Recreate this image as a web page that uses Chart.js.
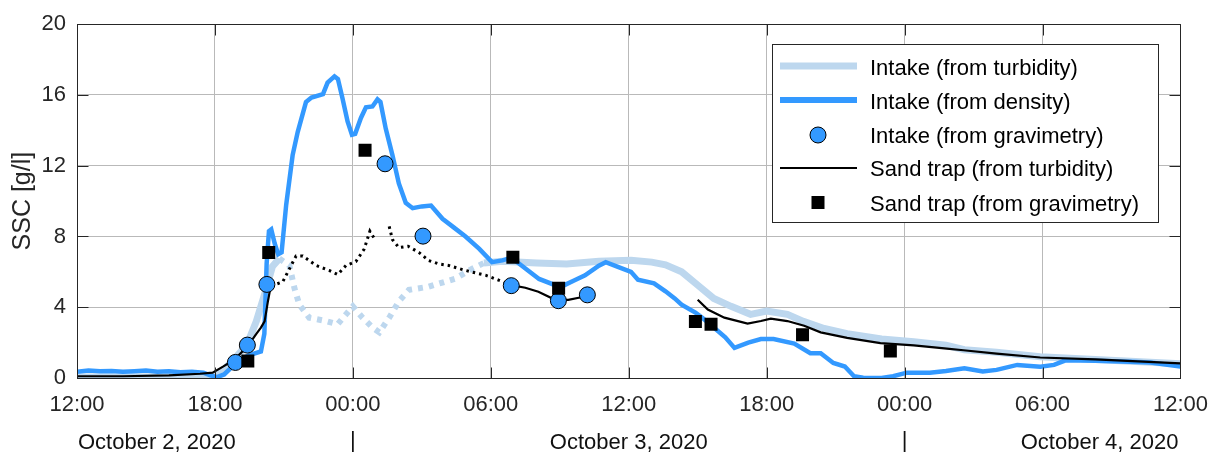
<!DOCTYPE html>
<html><head><meta charset="utf-8">
<script src="https://cdn.jsdelivr.net/npm/chart.js@4.4.1/dist/chart.umd.min.js"></script>
<style>html,body{margin:0;padding:0;background:#fff}#wrap{width:1222px;height:457px;position:relative}</style>
</head><body><div id="wrap"><canvas id="c"></canvas></div>
<script>
// ---- tick labels / categories ----
const xTickLabels = ['12:00','18:00','00:00','06:00','12:00','18:00','00:00','06:00','12:00'];
const dateLabels = ['October 2, 2020','October 3, 2020','October 4, 2020'];
const dateHours = [0, 24, 48];
const midnightHours = [12, 36];
const yAxisTitle = 'SSC [g/l]';
const seriesNames = ['Intake (from turbidity)','Intake (from density)','Intake (from gravimetry)','Sand trap (from turbidity)','Sand trap (from gravimetry)'];

// ---- series (x = hours after 12:00 on October 2, 2020; y = SSC in g/l) ----
const turbIntakeT = [0,3,5.5,5.9,6.4,6.8,7.4,7.8,8.2,8.5,8.8, 13, 17.7,18.5,20,21.3,22.7,24.1,25.0,25.6,26.3,27.0,27.7,28.45,29.3,30.0,30.9,31.6,32.5,33.5,35.0,36.4,37.8,38.6,40,41.9,44.3,48];
const turbIntakeV = [0.05,0.05,0.05,0.1,0.5,1.0,1.9,3.2,4.9,6.3,6.75, null, 6.5,6.6,6.5,6.45,6.6,6.65,6.55,6.4,6.0,5.25,4.5,4.05,3.6,3.78,3.6,3.2,2.8,2.5,2.2,2.05,1.85,1.6,1.45,1.2,1.05,0.8];
const turbIntakeGapT = [8.8,9.24,9.46,9.67,10.1,10.83,11.34,11.7,12.0,12.42,12.86,13.15,13.58,14.0,14.44,15.3,16.46,17.18,17.7];
const turbIntakeGapV = [6.75,6.36,5.07,4.15,3.41,3.22,3.04,3.6,4.05,3.41,2.85,2.58,3.41,4.33,4.98,5.16,5.62,6.17,6.5];

const densityT = [0,0.5,1,1.5,2,2.5,3,3.5,4,4.5,5,5.5,5.8,6.1,6.4,6.8,7.1,7.5,8.0,8.15,8.25,8.35,8.45,8.6,8.75,8.9,9.1,9.38,9.6,9.96,10.2,10.7,10.9,11.2,11.35,11.55,11.77,11.96,12.1,12.35,12.57,12.85,13.07,13.2,13.43,13.72,14.0,14.3,14.6,15.0,15.4,15.9,16.4,16.9,17.5,18.05,18.5,18.9,19.35,20.1,20.8,21.2,21.6,22.1,22.7,23.0,23.5,24.1,24.4,25.1,25.6,26.0,26.3,26.9,27.2,27.7,28.2,28.6,29.2,29.75,30.3,31.2,31.9,32.35,32.9,33.4,33.8,34.2,35.0,35.5,36.1,37.1,37.8,38.6,39.4,40,40.9,41.9,42.5,43.0,44.3,45.8,46.7,48];
const densityV = [0.35,0.42,0.38,0.4,0.35,0.38,0.42,0.35,0.38,0.32,0.35,0.3,0.15,0.05,0.2,0.7,1.05,1.3,1.5,2.5,6.5,8.3,8.4,7.6,7.0,7.1,9.8,12.6,13.9,15.6,15.85,16.05,16.7,17.05,16.9,15.8,14.5,13.75,13.8,14.7,15.3,15.35,15.75,15.6,14.1,12.6,11.0,9.9,9.6,9.7,9.75,9.0,8.5,8.0,7.3,6.55,6.65,6.8,6.35,5.6,5.25,5.25,5.5,5.8,6.35,6.55,6.3,6.0,5.55,5.35,4.9,4.5,4.15,3.7,3.4,2.85,2.3,1.7,2.0,2.2,2.2,1.95,1.4,1.4,0.85,0.65,0.1,0.02,0.0,0.1,0.3,0.3,0.4,0.55,0.37,0.46,0.74,0.64,0.74,1.0,0.98,0.92,0.87,0.65];

const gravIntakeT = [6.89,7.41,8.26,13.4,15.05,18.89,20.94,22.2];
const gravIntakeV = [0.88,1.86,5.29,12.11,8.02,5.22,4.37,4.7];

const sandTurbT = [0,2,4,5.35,5.9,6.35,6.8,7.4,7.8,8.0,8.16,8.3,8.4,8.45, 13, 18.89,19.5,20.07,20.8,21.37,21.88, 24, 27.0,27.44,28.16,29.17,29.75,30.18,30.9,31.63,32.35,33.5,34.95,36.4,37.84,38.56,40,41.9,44.3,48];
const sandTurbV = [0.1,0.1,0.15,0.24,0.3,0.64,1.0,1.75,2.5,2.85,3.2,4.3,5.0,5.2, null, 5.25,5.1,4.88,4.42,4.42,4.55, null, 4.42,3.87,3.41,3.08,3.22,3.35,3.22,2.95,2.58,2.27,1.97,1.84,1.66,1.57,1.38,1.16,1.05,0.83];
const sandTurbGapT = [8.45,8.95,9.24,9.53,9.82,10.4,10.97,11.34,11.7,12.13,12.49,12.74,13.0, 13.3, 13.58,13.72,14.0,14.4,14.87,15.3,15.74,16.17,16.9,17.77,18.34,18.89];
const sandTurbGapV = [5.2,5.44,6.17,6.9,6.9,6.36,6.08,5.85,6.36,6.58,7.28,8.3,7.74, null, 8.57,7.83,7.37,7.45,7.1,6.64,6.45,6.36,6.08,5.81,5.53,5.25];

const gravSandT = [7.43,8.34,12.53,18.96,20.95,26.9,27.58,31.56,35.38];
const gravSandV = [0.96,7.1,12.87,6.82,5.07,3.19,3.04,2.45,1.53];

// ---- styles ----
const C_LIGHT = '#BDD7EE', C_BLUE = '#3399FF', C_BLACK = '#000000', C_AXIS = '#262626', C_GRID = '#b9b9b9';
const FONT = '"Liberation Sans", Arial, sans-serif';

function pts(T, V){ return T.map((t,i)=>({x:t, y:V[i]})); }

const datasets = [
  {label:seriesNames[0], data:pts(turbIntakeT,turbIntakeV), borderColor:C_LIGHT, borderWidth:7, pointRadius:0, spanGaps:false, order:7, borderCapStyle:'butt'},
  {label:'_gap1', data:pts(turbIntakeGapT,turbIntakeGapV), borderColor:C_LIGHT, borderWidth:6, borderDash:[5,6], pointRadius:0, order:7},
  {label:seriesNames[1], data:pts(densityT,densityV), borderColor:C_BLUE, borderWidth:4.5, pointRadius:0, order:6},
  {label:seriesNames[3], data:pts(sandTurbT,sandTurbV), borderColor:C_BLACK, borderWidth:2.2, pointRadius:0, spanGaps:false, order:4},
  {label:'_gap2', data:pts(sandTurbGapT,sandTurbGapV), borderColor:C_BLACK, borderWidth:3, borderDash:[2.5,4], pointRadius:0, spanGaps:false, order:4},
  {label:seriesNames[2], data:pts(gravIntakeT,gravIntakeV), showLine:false, pointRadius:8, pointBackgroundColor:C_BLUE, pointBorderColor:'#000', pointBorderWidth:1, order:2},
  {label:seriesNames[4], data:pts(gravSandT,gravSandV), showLine:false, pointStyle:'rect', pointRadius:9.2, pointBackgroundColor:'#000', pointBorderColor:'#000', pointBorderWidth:0, order:1}
];

function crisp(v){ return Math.round(v) + 0.5; }

const deco = {
  id: 'deco',
  afterDatasetsDraw(chart){
    const {ctx, chartArea:a, scales:{x, y}} = chart;
    ctx.save();
    ctx.strokeStyle = C_AXIS; ctx.lineWidth = 1;
    const L = crisp(a.left), R = crisp(a.right), T = crisp(a.top), B = crisp(a.bottom);
    ctx.beginPath();
    ctx.rect(L, T, R - L, B - T);
    const tl = 11;
    x.ticks.forEach(t => { const px = crisp(x.getPixelForValue(t.value)); ctx.moveTo(px, B); ctx.lineTo(px, B - tl); ctx.moveTo(px, T); ctx.lineTo(px, T + tl); });
    y.ticks.forEach(t => { const py = crisp(y.getPixelForValue(t.value)); ctx.moveTo(L, py); ctx.lineTo(L + tl, py); ctx.moveTo(R, py); ctx.lineTo(R - tl, py); });
    ctx.stroke();
    ctx.restore();
  },
  afterDraw(chart){
    const {ctx, chartArea:a, scales:{x}} = chart;
    ctx.save();
    // y axis title
    ctx.fillStyle = C_AXIS;
    ctx.font = '25px ' + FONT;
    ctx.translate(30, (a.top + a.bottom) / 2);
    ctx.rotate(-Math.PI / 2);
    ctx.textAlign = 'center'; ctx.textBaseline = 'alphabetic';
    ctx.fillText(yAxisTitle, 0, 0);
    ctx.restore();

    // second row of x labels (dates)
    ctx.save();
    ctx.fillStyle = '#111';
    ctx.font = '22px ' + FONT;
    ctx.textBaseline = 'alphabetic';
    const aligns = ['left','center','right'];
    dateLabels.forEach((s,i) => { ctx.textAlign = aligns[i]; ctx.fillText(s, x.getPixelForValue(dateHours[i]) + (i===0?1:(i===2?-2:0)), 449); });
    ctx.textAlign = 'center';
    midnightHours.forEach(h => ctx.fillText('|', x.getPixelForValue(h), 447));
    ctx.restore();

    // legend
    ctx.save();
    const bx = 772, by = 44, bw = 386, bh = 178;
    ctx.fillStyle = '#fff'; ctx.fillRect(bx, by, bw, bh);
    ctx.strokeStyle = C_AXIS; ctx.lineWidth = 1; ctx.strokeRect(bx + 0.5, by + 0.5, bw, bh);
    const rows = [67, 101, 135, 168, 203];
    const x0 = 780, x1 = 857, xm = 818, tx = 870;
    // line samples
    ctx.lineCap = 'butt';
    ctx.strokeStyle = C_LIGHT; ctx.lineWidth = 7; ctx.beginPath(); ctx.moveTo(x0, rows[0]-1); ctx.lineTo(x1, rows[0]-1); ctx.stroke();
    ctx.strokeStyle = C_BLUE; ctx.lineWidth = 6; ctx.beginPath(); ctx.moveTo(x0, rows[1]-1); ctx.lineTo(x1, rows[1]-1); ctx.stroke();
    ctx.fillStyle = C_BLUE; ctx.strokeStyle = '#000'; ctx.lineWidth = 1;
    ctx.beginPath(); ctx.arc(xm, rows[2], 8, 0, Math.PI*2); ctx.fill(); ctx.stroke();
    ctx.strokeStyle = C_BLACK; ctx.lineWidth = 2; ctx.beginPath(); ctx.moveTo(x0, rows[3]); ctx.lineTo(x1, rows[3]); ctx.stroke();
    ctx.fillStyle = '#000'; ctx.fillRect(xm - 6.5, rows[4] - 7, 13, 13);
    // texts
    ctx.fillStyle = '#000'; ctx.font = '22px ' + FONT; ctx.textAlign = 'left'; ctx.textBaseline = 'alphabetic';
    const order = [0,1,2,3,4];
    order.forEach((k,i) => ctx.fillText(seriesNames[k], tx, rows[i] + 8));
    ctx.restore();
  }
};

new Chart(document.getElementById('c'), {
  type: 'line',
  data: { datasets },
  options: {
    responsive: true, maintainAspectRatio: false, animation: false,
    parsing: true, normalized: true,
    layout: { padding: { left: 0, right: 38, top: 17, bottom: 0 } },
    elements: { line: { tension: 0, fill: false } },
    plugins: { legend: { display: false }, tooltip: { enabled: false } },
    events: [],
    scales: {
      x: {
        type: 'linear', min: 0, max: 48,
        ticks: { stepSize: 6, autoSkip: false, maxRotation: 0, padding: 14, color: C_AXIS, font: { family: FONT, size: 22 },
          callback: (v) => xTickLabels[Math.round(v / 6)] },
        grid: { color: C_GRID, lineWidth: 1, drawTicks: false },
        border: { display: true, color: C_AXIS },
        afterFit: (s) => { s.height = 79; }
      },
      y: {
        min: 0, max: 20,
        ticks: { stepSize: 4, padding: 11, color: C_AXIS, font: { family: FONT, size: 22 } },
        grid: { color: C_GRID, lineWidth: 1, drawTicks: false },
        border: { display: true, color: C_AXIS },
        afterFit: (s) => { s.width = 77; }
      }
    }
  },
  plugins: [deco]
});
</script>
</body></html>
